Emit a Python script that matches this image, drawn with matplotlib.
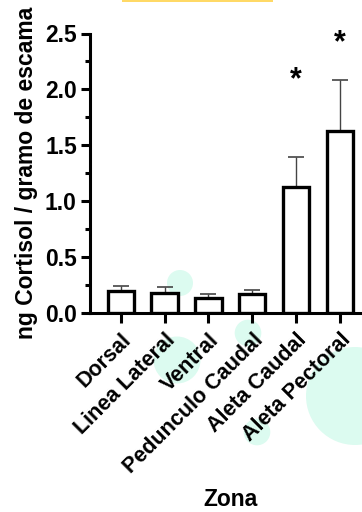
import matplotlib
matplotlib.use("Agg")
import matplotlib.pyplot as plt
from matplotlib.patches import Circle, Rectangle

plt.rcParams["font.family"] = ["Liberation Sans", "DejaVu Sans"]
plt.rcParams["font.weight"] = "bold"

zones = ["Dorsal", "Linea Lateral", "Ventral", "Pedunculo Caudal",
         "Aleta Caudal", "Aleta Pectoral"]
means = [0.195, 0.18, 0.137, 0.17, 1.13, 1.63]
sems = [0.05, 0.055, 0.033, 0.033, 0.265, 0.45]
yticks = [0.0, 0.5, 1.0, 1.5, 2.0, 2.5]
tick_labels = ["0.0", "0.5", "1.0", "1.5", "2.0", "2.5"]
sig_marks = {"Aleta Caudal": 2.01, "Aleta Pectoral": 2.34}

W, H = 362, 512
fig = plt.figure(figsize=(W / 100, H / 100), dpi=100)

# background decoration (pixel coords, origin top-left)
mint = "#dcfbf0"
for cx, cy, r in [(180, 283, 13), (177, 360, 23.5), (248, 333, 13.3),
                  (257, 432, 13.3), (355, 396, 49)]:
    fig.patches.append(Circle((cx / 100, (H - cy) / 100), r / 100,
                              transform=fig.dpi_scale_trans,
                              facecolor=mint, edgecolor="none", zorder=-5))
fig.patches.append(Rectangle((122 / 100, (H - 2) / 100), 151 / 100, 2 / 100,
                             transform=fig.dpi_scale_trans,
                             facecolor="#ffd966", edgecolor="none", zorder=-5))

ax = fig.add_axes([90 / W, 1 - 313 / H, (W - 90) / W, (313 - 33.5) / H])
ax.set_facecolor("none")

x = list(range(len(zones)))
ax.errorbar(x, means, yerr=[[0] * len(sems), sems], fmt="none",
            ecolor="#444444", elinewidth=1, capsize=5.5, capthick=1.2, zorder=2)
ax.bar(x, means, width=0.6, color="white", edgecolor="black",
       linewidth=2.4, zorder=3)

for name, yy in sig_marks.items():
    ax.text(zones.index(name), yy, "*", ha="center", va="baseline",
            fontsize=22, fontweight="bold")

ax.set_xlim(-0.7, 5.5)
ax.set_ylim(0, 2.5)
ax.set_yticks(yticks)
ax.set_yticklabels(tick_labels)
ax.set_yticks([0.25, 0.75, 1.25, 1.75, 2.25], minor=True)
ax.set_xticks(x)
ax.set_xticklabels(zones, rotation=45, ha="right", va="top",
                   rotation_mode="anchor")

for side in ["top", "right"]:
    ax.spines[side].set_visible(False)
for side in ["left", "bottom"]:
    ax.spines[side].set_linewidth(2.2)

ax.tick_params(axis="both", which="major", length=6.5, width=2.2,
               labelsize=16.5, pad=3)
ax.tick_params(axis="y", which="minor", length=3.5, width=2.2)
ax.tick_params(axis="x", which="major", length=7, pad=5, labelsize=15.5)

ax.set_ylabel("ng Cortisol / gramo de escama", fontsize=16.5,
              fontweight="bold", labelpad=5)
ax.set_xlabel("Zona", fontsize=16.5, fontweight="bold")
ax.xaxis.set_label_coords(0.515, -0.627)

fig.savefig("out.png", dpi=100)
